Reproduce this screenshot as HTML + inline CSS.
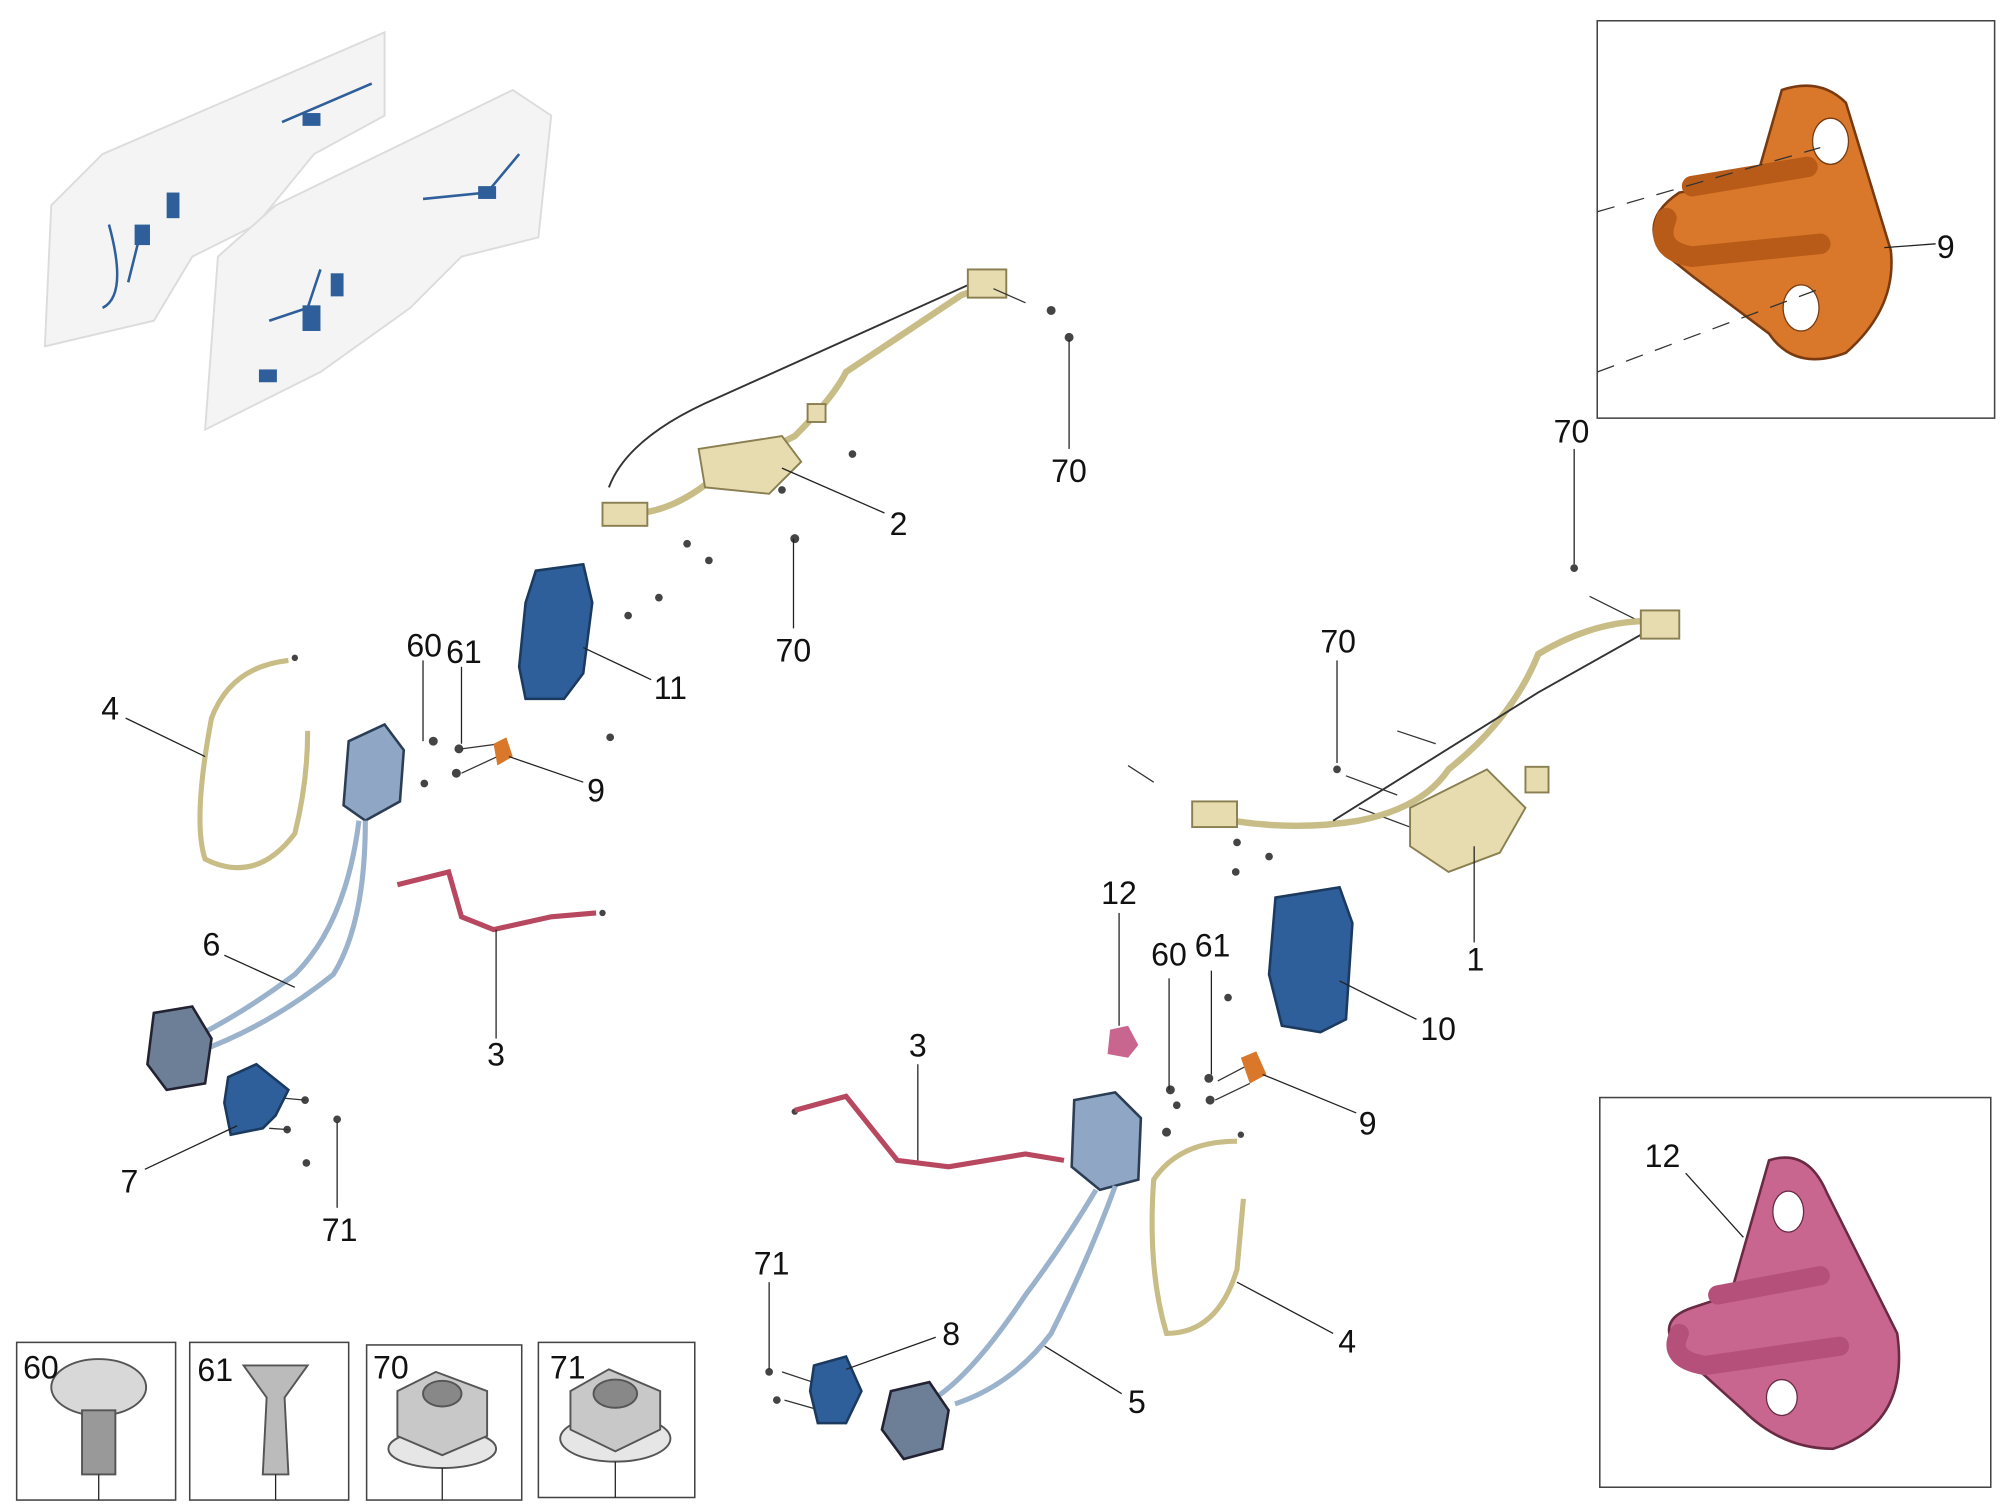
<!DOCTYPE html>
<html><head><style>
html,body{margin:0;padding:0;background:#fff;}
svg{display:block}
text{font-family:"Liberation Sans",sans-serif;font-size:25px;fill:#111}
</style></head><body>
<svg width="2010" height="1508" viewBox="0 0 1568 1176" xmlns="http://www.w3.org/2000/svg">
<rect width="1568" height="1176" fill="#fff"/>
<g fill="#f4f4f4" stroke="#dcdcdc" stroke-width="1.5">
<path d="M35 270 L40 160 L80 120 L300 25 L300 90 L245 120 L200 175 L150 200 L120 250 Z"/>
<path d="M160 335 L170 200 L215 160 L400 70 L430 90 L420 185 L360 200 L320 240 L250 290 Z"/>
</g>
<g fill="none" stroke="#2e5f9a" stroke-width="2">
<path d="M85 175 Q100 230 80 240 M110 180 L100 220 M220 95 L290 65 M210 250 L240 240 L250 210 M330 155 L380 150 L405 120"/>
</g>
<g fill="#2e5f9a">
<rect x="105" y="175" width="12" height="16"/><rect x="130" y="150" width="10" height="20"/><rect x="236" y="88" width="14" height="10"/>
<rect x="236" y="238" width="14" height="20"/><rect x="258" y="213" width="10" height="18"/><rect x="373" y="145" width="14" height="10"/><rect x="202" y="288" width="14" height="10"/>
</g>
<rect x="1246" y="16" width="310" height="310" fill="none" stroke="#444" stroke-width="1.2"/>
<path d="M1390 70 Q1420 60 1440 80 L1475 195 Q1480 240 1440 275 Q1400 290 1380 260 L1320 215 L1295 195 Q1280 170 1310 150 L1370 140 Z" fill="#d9782a" stroke="#7a3a10" stroke-width="2"/>
<path d="M1300 170 Q1290 195 1320 200 L1420 190 M1320 145 L1410 130" fill="none" stroke="#b85a18" stroke-width="16" stroke-linecap="round"/>
<ellipse cx="1428" cy="110" rx="14" ry="18" fill="#fff" stroke="#7a3a10"/>
<ellipse cx="1405" cy="240" rx="14" ry="18" fill="#fff" stroke="#7a3a10"/>
<path d="M1246 165 L1420 115 M1246 290 L1420 225" stroke="#333" stroke-dasharray="14 10" fill="none"/>
<line x1="1470" y1="193" x2="1510" y2="190" stroke="#222"/>
<text x="1511" y="201">9</text>
<rect x="1248" y="856" width="305" height="304" fill="none" stroke="#444" stroke-width="1.2"/>
<path d="M1380 905 Q1410 895 1425 930 L1480 1040 Q1490 1110 1430 1130 Q1390 1130 1360 1100 L1310 1055 Q1290 1030 1320 1020 L1350 1010 Z" fill="#c8668f" stroke="#6a2a44" stroke-width="2"/>
<path d="M1310 1040 Q1300 1060 1330 1065 L1435 1050 M1340 1010 L1420 995" fill="none" stroke="#b45079" stroke-width="15" stroke-linecap="round"/>
<ellipse cx="1395" cy="945" rx="12" ry="16" fill="#fff" stroke="#6a2a44"/>
<ellipse cx="1390" cy="1090" rx="12" ry="14" fill="#fff" stroke="#6a2a44"/>
<line x1="1315" y1="915" x2="1360" y2="965" stroke="#222"/>
<text x="1283" y="910">12</text>
<g fill="none" stroke="#c9bd87" stroke-width="5" stroke-linecap="round">
<path d="M480 400 Q520 405 560 370 L620 340 Q650 310 660 290 L750 230 L780 220"/>
</g>
<path d="M475 380 Q490 340 560 310 L760 220" fill="none" stroke="#333" stroke-width="1.5"/>
<g fill="#e6dcb0" stroke="#8a7f50" stroke-width="1.5">
<path d="M545 350 L610 340 L625 360 L600 385 L550 380 Z"/>
<rect x="470" y="392" width="35" height="18"/>
<rect x="755" y="210" width="30" height="22"/>
<rect x="630" y="315" width="14" height="14"/>
</g>
<!-- small fasteners -->
<g fill="#444">
<circle cx="820" cy="242" r="3.5"/><circle cx="834" cy="263" r="3.5"/><circle cx="665" cy="354" r="3"/><circle cx="610" cy="382" r="3"/>
<circle cx="620" cy="420" r="3.5"/><circle cx="536" cy="424" r="3"/><circle cx="553" cy="437" r="3"/>
<circle cx="514" cy="466" r="3"/><circle cx="490" cy="480" r="3"/><circle cx="476" cy="575" r="3"/>
<circle cx="338" cy="578" r="3.5"/><circle cx="358" cy="584" r="3.5"/><circle cx="356" cy="603" r="3.5"/><circle cx="331" cy="611" r="3"/>
<circle cx="238" cy="858" r="3"/><circle cx="263" cy="873" r="3"/><circle cx="224" cy="881" r="3"/><circle cx="239" cy="907" r="3"/>
<circle cx="1043" cy="600" r="3"/><circle cx="1228" cy="443" r="3"/><circle cx="965" cy="657" r="3"/><circle cx="990" cy="668" r="3"/><circle cx="964" cy="680" r="3"/>
<circle cx="958" cy="778" r="3"/><circle cx="913" cy="850" r="3.5"/><circle cx="943" cy="841" r="3.5"/><circle cx="944" cy="858" r="3.5"/><circle cx="910" cy="883" r="3.5"/><circle cx="918" cy="862" r="3"/>
<circle cx="600" cy="1070" r="3"/><circle cx="606" cy="1092" r="3"/>
<circle cx="470" cy="712" r="2.5"/><circle cx="230" cy="513" r="2.5"/><circle cx="968" cy="885" r="2.5"/><circle cx="620" cy="867" r="2.5"/>
</g>
<g stroke="#333" stroke-width="1" fill="none">
<path d="M800 236 L775 225 M360 584 L390 580 M360 603 L388 590 M1090 570 L1120 580 M1060 630 L1100 645 M1050 605 L1090 620 M880 597 L900 610 M1240 465 L1280 485 M950 843 L975 830 M948 858 L975 845 M610 1070 L640 1080 M612 1092 L640 1100 M205 855 L238 858 M210 880 L225 881"/>
</g>
<line x1="610" y1="365" x2="690" y2="400" stroke="#222"/>
<text x="694" y="417">2</text>
<line x1="834" y1="265" x2="834" y2="350" stroke="#222"/><text x="820" y="376">70</text>
<line x1="619" y1="420" x2="619" y2="490" stroke="#222"/><text x="605" y="516">70</text>
<path d="M418 445 L455 440 L462 470 L455 525 L440 545 L410 545 L405 520 L410 470 Z" fill="#2e5f9a" stroke="#1b3a60" stroke-width="2"/>
<line x1="455" y1="505" x2="508" y2="530" stroke="#222"/><text x="510" y="545">11</text>
<path d="M272 578 L300 565 L315 585 L312 625 L285 640 L268 628 Z" fill="#8fa7c4" stroke="#2c3e55" stroke-width="2"/>
<path d="M280 640 Q270 720 230 760 Q190 790 150 810 M285 640 Q285 720 260 760 Q210 800 155 820" fill="none" stroke="#9bb2cc" stroke-width="4"/>
<path d="M120 790 L150 785 L165 810 L160 845 L130 850 L115 830 Z" fill="#6c7f96" stroke="#223" stroke-width="2"/>
<path d="M178 840 L200 830 L225 850 L215 870 L205 880 L180 885 L175 860 Z" fill="#2e5f9a" stroke="#1b3a60" stroke-width="2"/>
<path d="M385 580 L395 575 L400 590 L388 597 Z" fill="#d9782a"/>
<line x1="330" y1="515" x2="330" y2="578" stroke="#222"/><text x="317" y="512">60</text>
<line x1="360" y1="520" x2="360" y2="580" stroke="#222"/><text x="348" y="517">61</text>
<line x1="397" y1="590" x2="455" y2="610" stroke="#222"/><text x="458" y="625">9</text>
<path d="M225 515 Q180 520 165 560 Q150 640 160 670 Q200 690 230 650 Q240 610 240 570" fill="none" stroke="#c9bd87" stroke-width="4"/>
<line x1="98" y1="560" x2="160" y2="590" stroke="#222"/><text x="79" y="561">4</text>
<line x1="175" y1="745" x2="230" y2="770" stroke="#222"/><text x="158" y="745">6</text>
<path d="M310 690 L350 680 L360 715 L385 725 L430 715 L465 712" fill="none" stroke="#b84860" stroke-width="4"/>
<line x1="387" y1="725" x2="387" y2="810" stroke="#222"/><text x="380" y="831">3</text>
<line x1="113" y1="912" x2="185" y2="878" stroke="#222"/><text x="94" y="930">7</text>
<line x1="263" y1="875" x2="263" y2="942" stroke="#222"/><text x="251" y="968">71</text>
<path d="M935 635 Q1000 650 1060 640 Q1110 630 1130 600 Q1180 560 1200 510 Q1250 480 1300 485" fill="none" stroke="#c9bd87" stroke-width="5"/>
<path d="M1040 640 L1200 540 L1280 495" fill="none" stroke="#333" stroke-width="1.5"/>
<g fill="#e6dcb0" stroke="#8a7f50" stroke-width="1.5">
<path d="M1100 630 L1160 600 L1190 630 L1170 665 L1130 680 L1100 660 Z"/>
<rect x="930" y="625" width="35" height="20"/>
<rect x="1280" y="476" width="30" height="22"/>
<rect x="1190" y="598" width="18" height="20"/>
</g>
<line x1="1150" y1="660" x2="1150" y2="735" stroke="#222"/><text x="1144" y="757">1</text>
<line x1="1228" y1="350" x2="1228" y2="440" stroke="#222"/><text x="1212" y="345">70</text>
<line x1="1043" y1="515" x2="1043" y2="595" stroke="#222"/><text x="1030" y="509">70</text>
<path d="M995 700 L1045 692 L1055 720 L1050 795 L1030 805 L1000 800 L990 760 Z" fill="#2e5f9a" stroke="#1b3a60" stroke-width="2"/>
<line x1="1045" y1="765" x2="1105" y2="795" stroke="#222"/><text x="1108" y="811">10</text>
<path d="M866 803 L880 800 L888 815 L880 825 L864 822 Z" fill="#c8668f"/>
<line x1="873" y1="712" x2="873" y2="800" stroke="#222"/><text x="859" y="705">12</text>
<line x1="912" y1="763" x2="912" y2="850" stroke="#222"/><text x="898" y="753">60</text>
<line x1="945" y1="757" x2="945" y2="838" stroke="#222"/><text x="932" y="746">61</text>
<path d="M968 825 L980 820 L988 838 L975 845 Z" fill="#d9782a"/>
<line x1="985" y1="838" x2="1058" y2="868" stroke="#222"/><text x="1060" y="885">9</text>
<path d="M838 858 L870 852 L890 872 L888 920 L858 928 L836 910 Z" fill="#8fa7c4" stroke="#2c3e55" stroke-width="2"/>
<path d="M855 928 Q830 970 800 1010 Q760 1070 730 1090 M870 925 Q850 980 820 1040 Q790 1080 745 1095" fill="none" stroke="#9bb2cc" stroke-width="4"/>
<path d="M695 1085 L725 1078 L740 1100 L735 1130 L705 1138 L688 1115 Z" fill="#6c7f96" stroke="#223" stroke-width="2"/>
<path d="M635 1065 L660 1058 L672 1085 L660 1110 L638 1110 L632 1085 Z" fill="#2e5f9a" stroke="#1b3a60" stroke-width="2"/>
<path d="M620 866 L660 855 L700 905 L740 910 L800 900 L830 905" fill="none" stroke="#b84860" stroke-width="4"/>
<line x1="716" y1="830" x2="716" y2="905" stroke="#222"/><text x="709" y="824">3</text>
<path d="M965 890 Q920 890 900 920 Q895 990 910 1040 Q950 1040 965 990 L970 935" fill="none" stroke="#c9bd87" stroke-width="4"/>
<line x1="965" y1="1000" x2="1040" y2="1040" stroke="#222"/><text x="1044" y="1055">4</text>
<line x1="815" y1="1050" x2="875" y2="1087" stroke="#222"/><text x="880" y="1102">5</text>
<line x1="660" y1="1068" x2="730" y2="1043" stroke="#222"/><text x="735" y="1049">8</text>
<line x1="600" y1="1000" x2="600" y2="1068" stroke="#222"/><text x="588" y="994">71</text>
<g fill="none" stroke="#444" stroke-width="1.2">
<rect x="13" y="1047" width="124" height="123"/>
<rect x="148" y="1047" width="124" height="123"/>
<rect x="286" y="1049" width="121" height="121"/>
<rect x="420" y="1047" width="122" height="121"/>
</g>
<g stroke="#555" stroke-width="1.5">
<ellipse cx="77" cy="1082" rx="37" ry="22" fill="#d8d8d8"/>
<rect x="64" y="1100" width="26" height="50" fill="#999"/>
<path d="M190 1065 L240 1065 L222 1090 L225 1150 L205 1150 L208 1090 Z" fill="#bbb"/>
<ellipse cx="345" cy="1130" rx="42" ry="15" fill="#e6e6e6"/>
<polygon points="310,1085 340,1070 380,1085 380,1120 345,1135 310,1120" fill="#c8c8c8"/>
<ellipse cx="345" cy="1087" rx="15" ry="10" fill="#888"/>
<ellipse cx="480" cy="1122" rx="43" ry="18" fill="#e6e6e6"/>
<polygon points="445,1085 475,1068 515,1085 515,1115 480,1132 445,1115" fill="#c8c8c8"/>
<ellipse cx="480" cy="1087" rx="17" ry="11" fill="#888"/>
</g>
<g stroke="#222"><line x1="77" y1="1150" x2="77" y2="1170"/><line x1="215" y1="1150" x2="215" y2="1170"/><line x1="345" y1="1145" x2="345" y2="1170"/><line x1="480" y1="1140" x2="480" y2="1168"/></g>
<text x="18" y="1075">60</text><text x="154" y="1077">61</text><text x="291" y="1075">70</text><text x="429" y="1075">71</text>
</svg>
</body></html>
